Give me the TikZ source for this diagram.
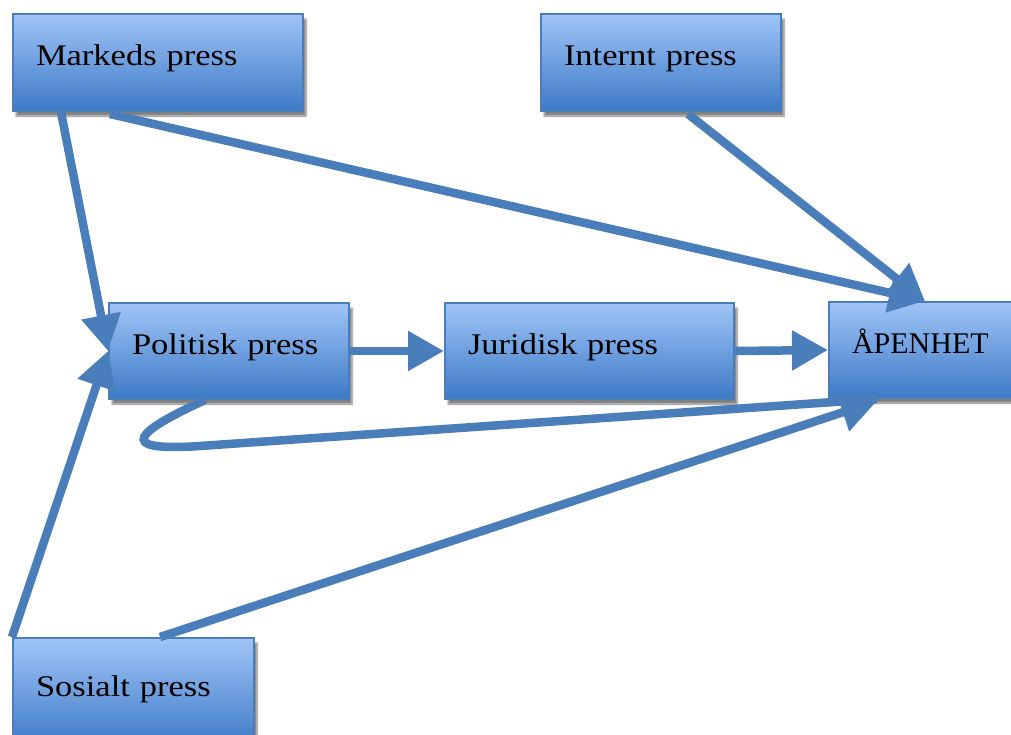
\documentclass[tikz,border=0pt]{standalone}
\usepackage{fontspec}
\setmainfont{Liberation Serif}[FakeStretch=1.15]
\newfontfamily\capsface{Liberation Serif}
\usetikzlibrary{arrows.meta,shadows.blur,calc}
\definecolor{edgeblue}{RGB}{74,126,187}
\definecolor{topblue}{RGB}{160,196,247}
\definecolor{botblue}{RGB}{60,122,198}
\begin{document}
\begin{tikzpicture}[x=1pt,y=-1pt,
  pbox/.style={draw=edgeblue, line width=2pt, top color=topblue, bottom color=botblue,
    anchor=north west, inner xsep=23pt, inner ysep=0pt, align=left,
    font=\fontsize{30}{36}\selectfont, text height=20pt, text depth=14pt,
    blur shadow={shadow xshift=3pt, shadow yshift=-5pt, shadow blur steps=6, shadow opacity=50}},
  link/.style={draw=edgeblue, line width=8.5pt,
    preaction={draw=black, opacity=0.12, transform canvas={shift={(2pt,-3pt)}}}},
  tip/.style={-{Triangle[length=36pt,width=38pt]}}
]
\useasboundingbox (0,0) rectangle (1011,734);

% pressure boxes
\node[pbox, text width=244pt, minimum height=97pt] (mk) at (12,13)  {Markeds press};
\node[pbox, text width=194pt, minimum height=97pt] (in) at (540,13) {Internt press};
\node[pbox, text width=194pt, minimum height=96pt] (po) at (108,302) {Politisk press};
\node[pbox, text width=243pt, minimum height=96pt] (ju) at (444,302) {Juridisk press};
\node[pbox, text width=204pt, minimum height=96pt] (ap) at (828,301) {\capsface ÅPENHET};
\node[pbox, text width=195pt, minimum height=110pt] (so) at (12,637) {Sosialt press};

% connectors
\draw[link, tip] ($(mk.south west)+(49,0)$) -- (po.west);
\draw[link, tip] ($(mk.south west)+(98,2)$) -- ($(ap.north west)+(97,0)$);
\draw[link, tip] ($(in.south west)+(148,2)$) -- ($(ap.north west)+(97,0)$);
\draw[link, tip] (po.east) -- (ju.west);
\draw[link, tip] (ju.east) -- (ap.west);
\draw[link] ($(po.south west)+(97,0)$) .. controls (140,430) and (110,452) .. (200,446)
  -- ($(ap.south west)+(49,0)$);
\draw[link, tip] (so.north west) -- (po.west);
\draw[link, tip] ($(so.north west)+(148,0)$) -- ($(ap.south west)+(49,2)$);
\end{tikzpicture}
\end{document}
